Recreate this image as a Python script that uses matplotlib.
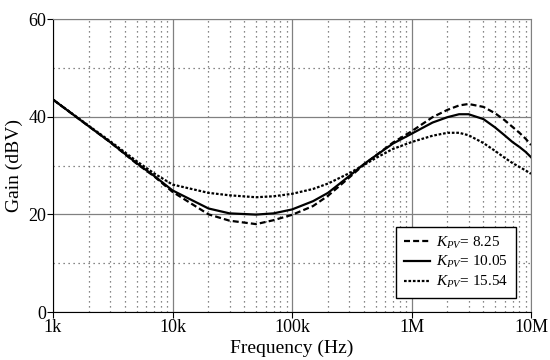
import matplotlib
matplotlib.use("Agg")
import matplotlib.pyplot as plt
from matplotlib.ticker import FixedLocator, NullFormatter

plt.rcParams['font.family'] = ['Liberation Serif', 'DejaVu Serif']
plt.rcParams['mathtext.fontset'] = 'custom'
plt.rcParams['mathtext.rm'] = 'Liberation Serif'
plt.rcParams['mathtext.it'] = 'Liberation Serif:italic'

# data (frequency in Hz, gain in dBV)
freq = [1e3, 2e3, 3e3, 5e3, 7e3, 1e4, 2e4, 3e4, 5e4, 7e4, 1e5, 1.5e5, 2e5, 3e5, 4e5, 5e5,
        7e5, 1e6, 1.5e6, 2e6, 2.5e6, 3e6, 4e6, 5e6, 6e6, 7e6, 8e6, 9e6, 1e7]
gain_825 = [43.5, 38.0, 34.8, 30.4, 27.8, 24.6, 20.0, 18.7, 18.0, 18.8, 19.9, 21.7, 23.8, 27.5, 30.2, 32.0,
            34.7, 37.0, 39.9, 41.4, 42.3, 42.6, 42.0, 40.7, 39.3, 37.9, 36.7, 35.5, 34.2]
gain_1005 = [43.5, 38.0, 34.8, 30.5, 27.9, 24.9, 21.2, 20.2, 19.95, 20.2, 21.0, 22.7, 24.4, 27.8, 30.3, 32.0,
             34.5, 36.5, 38.8, 39.9, 40.5, 40.5, 39.5, 37.8, 36.2, 34.8, 33.8, 32.8, 31.7]
gain_1554 = [43.5, 38.1, 35.0, 30.9, 28.4, 26.1, 24.4, 23.9, 23.5, 23.7, 24.2, 25.2, 26.3, 28.4, 30.1, 31.5,
             33.4, 34.8, 36.1, 36.7, 36.7, 36.2, 34.6, 33.0, 31.6, 30.5, 29.7, 29.0, 28.3]
labels = [r'$K_{PV}$= 8.25', r'$K_{PV}$= 10.05', r'$K_{PV}$= 15.54']

x_ticks = [1e3, 1e4, 1e5, 1e6, 1e7]
x_ticklabels = ['1k', '10k', '100k', '1M', '10M']
y_ticks = [0, 20, 40, 60]

fig = plt.figure(figsize=(5.5, 3.6), dpi=100)
ax = fig.add_axes([0.0964, 0.1333, 0.8691, 0.8139])

ax.plot(freq, gain_825, color='black', lw=1.6, dashes=(2.7, 1.4), label=labels[0])
ax.plot(freq, gain_1005, color='black', lw=1.6, label=labels[1])
ax.plot(freq, gain_1554, color='black', lw=1.6, dashes=(1.2, 0.8), label=labels[2])

ax.set_xscale('log')
ax.set_xlim(1e3, 1e7)
ax.set_ylim(0, 60)
ax.xaxis.set_major_locator(FixedLocator(x_ticks))
ax.set_xticklabels(x_ticklabels)
ax.xaxis.set_minor_locator(FixedLocator([m * 10 ** d for d in range(3, 7) for m in range(2, 10)]))
ax.xaxis.set_minor_formatter(NullFormatter())
ax.set_yticks(y_ticks)
ax.yaxis.set_minor_locator(FixedLocator([10, 30, 50]))

ax.grid(which='major', color='#808080', lw=0.9, ls='-')
ax.grid(which='minor', color='#606060', lw=0.9, ls=(0, (1, 3)))
ax.tick_params(which='major', direction='out', length=4, labelsize=13, color='black', pad=1)
ax.tick_params(which='minor', length=0)

for s in ['top', 'right']:
    ax.spines[s].set_color('#808080')
for s in ['left', 'bottom']:
    ax.spines[s].set_color('black')

ax.set_xlabel('Frequency (Hz)', fontsize=14, labelpad=3)
ax.set_ylabel('Gain (dBV)', fontsize=14, labelpad=4)

leg = ax.legend(loc='lower right', fontsize=11, frameon=True, fancybox=False,
                edgecolor='black', framealpha=1, handlelength=1.7, handletextpad=0.4,
                borderpad=0.5, labelspacing=0.25, borderaxespad=0,
                bbox_to_anchor=(516 / 550, 1 - 298 / 360), bbox_transform=fig.transFigure)
leg.get_frame().set_linewidth(1.0)

fig.savefig('out.png', dpi=100)
